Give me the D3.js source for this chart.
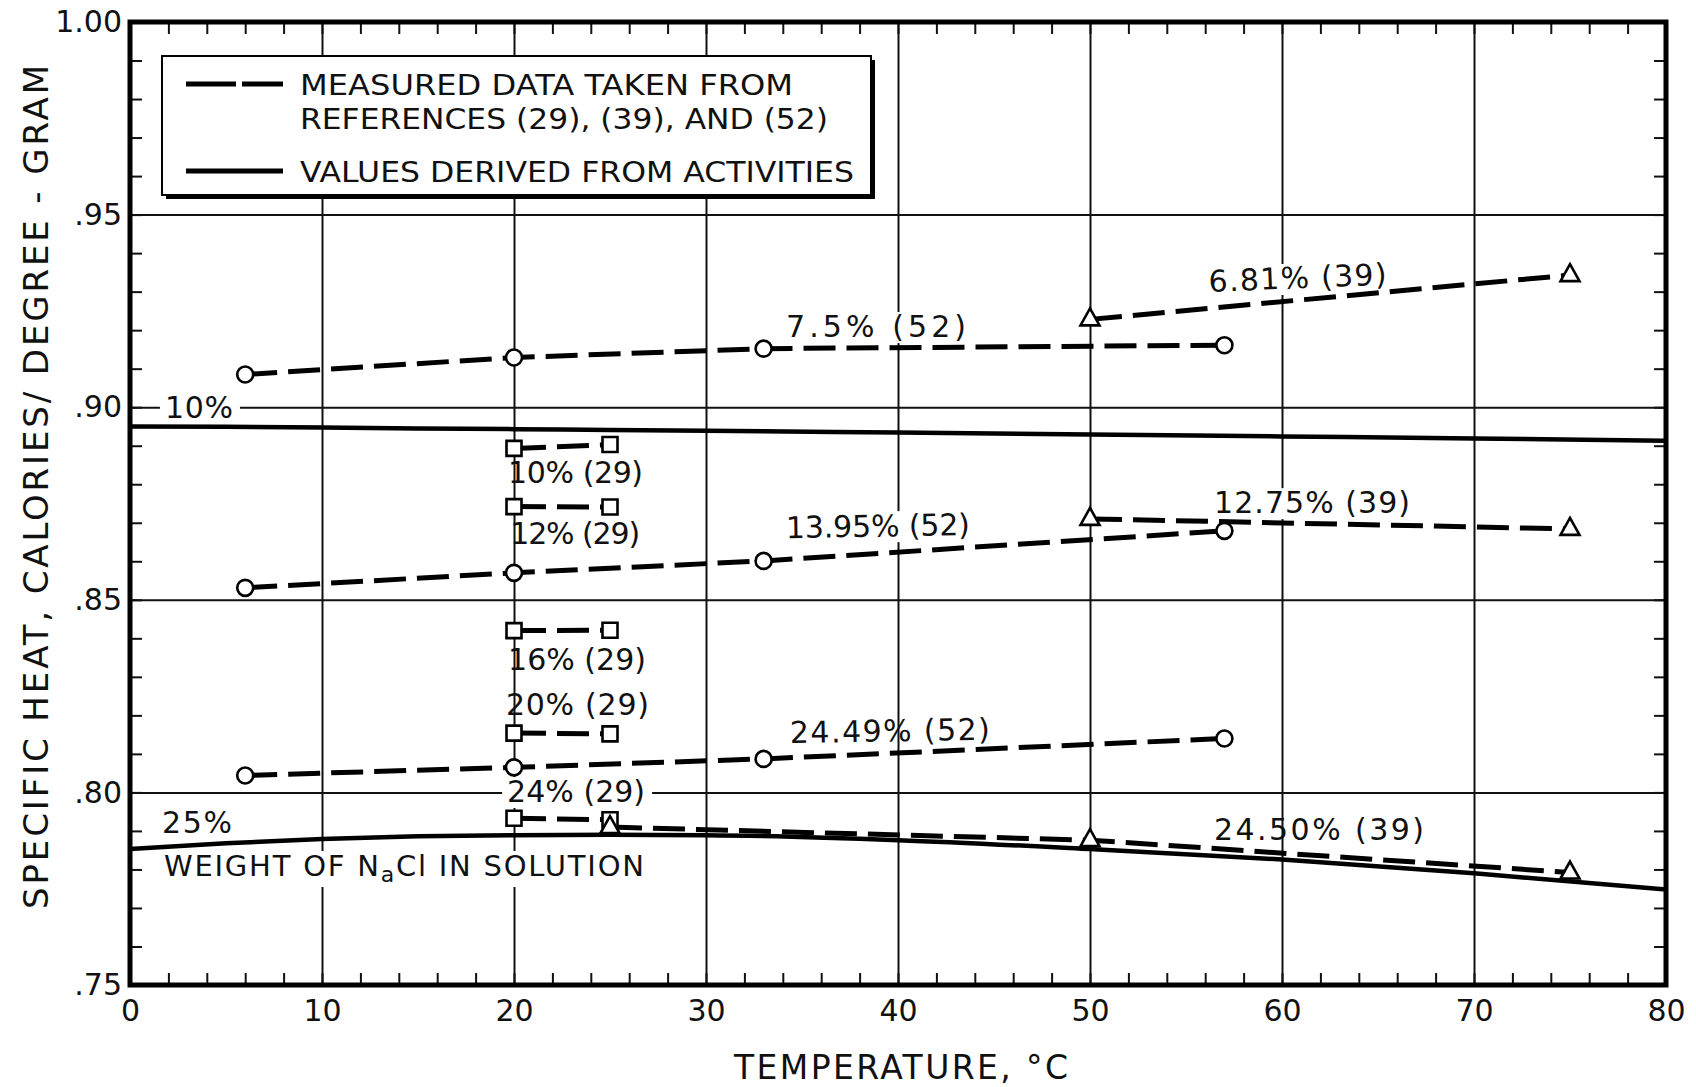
<!DOCTYPE html>
<html>
<head>
  <meta charset="utf-8">
  <title>Specific heat of NaCl solutions</title>
  <script src="https://d3js.org/d3.v7.min.js"></script>
  <style>
    body { margin: 0; background: #fff; }
    text { font-family: "DejaVu Sans", "Liberation Sans", sans-serif; fill: #111; }
  </style>
</head>
<body>
<div id="chart"></div>
<script>

// ---- data ----
// measured, ref (52): circles
var temps52 = [6, 20, 33, 57];
var cp52_7_5 = [0.9085, 0.9129, 0.9152, 0.9161];
var cp52_13_95 = [0.8531, 0.8570, 0.8601, 0.8679];
var cp52_24_49 = [0.8044, 0.8065, 0.8087, 0.8140];

// measured, ref (39): triangles
var temps39 = [50, 75];
var cp39_6_81 = [0.9228, 0.9343];
var cp39_12_75 = [0.8710, 0.8684];
var temps39b = [25, 50, 75];
var cp39_24_50 = [0.7910, 0.7876, 0.7792];

// measured, ref (29): squares
var temps29 = [20, 25];
var cp29_10 = [0.8893, 0.8903];
var cp29_12 = [0.8742, 0.8741];
var cp29_16 = [0.8420, 0.8421];
var cp29_20 = [0.8154, 0.8152];
var cp29_24 = [0.7933, 0.7929];

// values derived from activities: solid
var tempsCalc = [0, 5, 10, 15, 20, 25, 30, 40, 50, 60, 70, 80];
var calc10 = [0.8950, 0.8949, 0.8947, 0.8945, 0.8943, 0.8941, 0.8939, 0.8934, 0.8929, 0.8924, 0.8919, 0.8913];
var calc25 = [0.7853, 0.7868, 0.7879, 0.7886, 0.7889, 0.7890, 0.7889, 0.7876, 0.7853, 0.7826, 0.7790, 0.7748];

// ticks
var xTicks = [0, 10, 20, 30, 40, 50, 60, 70, 80];
var yTicks = [1.00, 0.95, 0.90, 0.85, 0.80, 0.75];
var yTickLabels = ["1.00", ".95", ".90", ".85", ".80", ".75"];

// annotations (text, anchor in data units, width in px, white box behind?)
var labels = [
  {t: "7.5% (52)",   x: 34.17, y: 0.9182, w: 180, bg: true},
  {t: "6.81% (39)",  x: 56.2,  y: 0.9299, w: 178, rot: -2.4, bg: true},
  {t: "10% (29)",    x: 19.69, y: 0.8803, w: 135},
  {t: "12% (29)",    x: 19.8,  y: 0.8645, w: 130},
  {t: "13.95% (52)", x: 34.17, y: 0.8660, w: 184, rot: -1, bg: true},
  {t: "12.75% (39)", x: 56.46, y: 0.8725, w: 196, bg: true},
  {t: "16% (29)",    x: 19.69, y: 0.8318, w: 138},
  {t: "20% (29)",    x: 19.58, y: 0.8201, w: 143},
  {t: "24.49% (52)", x: 34.38, y: 0.8128, w: 200, rot: -1},
  {t: "25%",         x: 1.67,  y: 0.7895, w: 70},
  {t: "24.50% (39)", x: 56.46, y: 0.7876, w: 210},
  {t: "10%",         x: 1.82,  y: 0.8972, w: 68, bg: true},
  {t: "24% (29)",    x: 19.64, y: 0.7975, w: 138, bg: true}
];

// ---- layout ----
var W = 1696, H = 1087;
var margin = {top: 22, right: 30, bottom: 102, left: 130},
    width = W - margin.left - margin.right,
    height = H - margin.top - margin.bottom;

var root = d3.select("#chart").append("svg")
    .attr("width", W)
    .attr("height", H);

var svg = root.append("g")
    .attr("transform", "translate(" + margin.left + "," + margin.top + ")");

var x = d3.scaleLinear().domain([0, 80]).range([0, width]);
var y = d3.scaleLinear().domain([0.75, 1.00]).range([height, 0]);

// grid lines
svg.append("g")
  .attr("transform", "translate(0," + height + ")")
  .call(d3.axisBottom(x).tickValues(xTicks.slice(1, -1)).tickSize(-height).tickFormat(""))
  .call(function(g) { g.select(".domain").remove(); })
  .selectAll("line").attr("stroke", "#111").attr("stroke-width", 1.6);

svg.append("g")
  .call(d3.axisLeft(y).tickValues(yTicks.slice(1, -1)).tickSize(-width).tickFormat(""))
  .call(function(g) { g.select(".domain").remove(); })
  .selectAll("line").attr("stroke", "#111").attr("stroke-width", 1.6);

// minor ticks (inward) on all four sides
var xMinor = d3.range(0, 81, 2);
var yMinor = d3.range(75, 101, 1).map(function(d) { return d / 100; });

var bottomAxis = svg.append("g")
  .attr("transform", "translate(0," + height + ")")
  .call(d3.axisBottom(x).tickValues(xMinor).tickSize(-12).tickPadding(15)
    .tickFormat(function(d) { return xTicks.indexOf(d) >= 0 ? d : ""; }));
svg.append("g")
  .call(d3.axisTop(x).tickValues(xMinor).tickSize(-12).tickFormat(""));
var leftAxis = svg.append("g")
  .call(d3.axisLeft(y).tickValues(yMinor).tickSize(-12).tickPadding(8)
    .tickFormat(function(d) {
      var i = yTicks.findIndex(function(t) { return Math.abs(t - d) < 1e-6; });
      return i >= 0 ? yTickLabels[i] : "";
    }));
svg.append("g")
  .attr("transform", "translate(" + width + ",0)")
  .call(d3.axisRight(y).tickValues(yMinor).tickSize(-12).tickFormat(""));

svg.selectAll(".domain").remove();
svg.selectAll(".tick line").attr("stroke", "#111").attr("stroke-width", 2);
bottomAxis.selectAll("text").style("font-size", "30px").style("font-family", "DejaVu Sans").attr("fill", "#111");
leftAxis.selectAll("text").style("font-size", "30px").style("font-family", "DejaVu Sans").attr("fill", "#111");

// frame
svg.append("rect")
  .attr("width", width).attr("height", height)
  .attr("fill", "none").attr("stroke", "#000").attr("stroke-width", 5);

// legend box
var lg = svg.append("g").attr("transform", "translate(" + (162 - margin.left) + "," + (56 - margin.top) + ")");
lg.append("rect").attr("x", 4).attr("y", 4).attr("width", 709).attr("height", 139).attr("fill", "#000");
lg.append("rect").attr("width", 709).attr("height", 139).attr("fill", "#fff")
  .attr("stroke", "#000").attr("stroke-width", 2);
lg.append("line").attr("x1", 24).attr("x2", 121).attr("y1", 28).attr("y2", 28)
  .attr("stroke", "#000").attr("stroke-width", 5).attr("stroke-dasharray", "50,6");
lg.append("line").attr("x1", 24).attr("x2", 121).attr("y1", 115).attr("y2", 115)
  .attr("stroke", "#000").attr("stroke-width", 5);
lg.append("text").attr("x", 138).attr("y", 39).style("font-size", "29px")
  .attr("textLength", 493).attr("lengthAdjust", "spacingAndGlyphs").text("MEASURED  DATA TAKEN FROM");
lg.append("text").attr("x", 138).attr("y", 73).style("font-size", "29px")
  .attr("textLength", 528).attr("lengthAdjust", "spacingAndGlyphs").text("REFERENCES (29), (39), AND (52)");
lg.append("text").attr("x", 138).attr("y", 126).style("font-size", "29px")
  .attr("textLength", 554).attr("lengthAdjust", "spacingAndGlyphs").text("VALUES  DERIVED FROM ACTIVITIES");

// white boxes behind labels that interrupt grid lines
labels.filter(function(l) { return l.bg; }).forEach(function(l) {
  svg.append("rect")
    .attr("x", x(l.x) - 5).attr("y", y(l.y) - 25)
    .attr("width", l.w + 12).attr("height", 31).attr("fill", "#fff")
    .attr("transform", l.rot ? "rotate(" + l.rot + "," + x(l.x) + "," + y(l.y) + ")" : null);
});
// weight label box
svg.append("rect").attr("x", x(1.77) - 5).attr("y", y(0.7783) - 25)
  .attr("width", 492).attr("height", 36).attr("fill", "#fff");

// lines
function series(xs, ys) {
  return xs.map(function(d, i) { return {x: d, y: ys[i]}; });
}
var line = d3.line().x(function(d) { return x(d.x); }).y(function(d) { return y(d.y); });
var smooth = d3.line().curve(d3.curveMonotoneX)
  .x(function(d) { return x(d.x); }).y(function(d) { return y(d.y); });

var solid = [series(tempsCalc, calc10), series(tempsCalc, calc25)];
var dashed = [
  series(temps52, cp52_7_5), series(temps52, cp52_13_95), series(temps52, cp52_24_49),
  series(temps39, cp39_6_81), series(temps39, cp39_12_75), series(temps39b, cp39_24_50),
  series(temps29, cp29_10), series(temps29, cp29_12), series(temps29, cp29_16),
  series(temps29, cp29_20), series(temps29, cp29_24)
];

svg.selectAll(".solid").data(solid).enter().append("path")
  .attr("class", "solid")
  .attr("d", smooth)
  .attr("fill", "none").attr("stroke", "#000").attr("stroke-width", 4.5);

svg.selectAll(".dashed").data(dashed).enter().append("path")
  .attr("class", "dashed")
  .attr("d", line)
  .attr("fill", "none").attr("stroke", "#000").attr("stroke-width", 5)
  .attr("stroke-dasharray", "32,11");

// markers
function marks(data, shape) {
  svg.selectAll(null).data(data).enter().append("path")
    .attr("transform", function(d) { return "translate(" + x(d.x) + "," + y(d.y) + ")"; })
    .attr("d", shape)
    .attr("fill", "#fff").attr("stroke", "#000").attr("stroke-width", 2.6);
}
var circle = "M8,0A8,8 0 1,1 -8,0A8,8 0 1,1 8,0Z";
var square = "M-7.5,-7.5H7.5V7.5H-7.5Z";
var tri = "M0,-11L9.5,6L-9.5,6Z";

marks([].concat(series(temps52, cp52_7_5), series(temps52, cp52_13_95), series(temps52, cp52_24_49)), circle);
marks([].concat(series(temps29, cp29_10), series(temps29, cp29_12), series(temps29, cp29_16),
  series(temps29, cp29_20), series(temps29, cp29_24)), square);
marks([].concat(series(temps39, cp39_6_81), series(temps39, cp39_12_75), series(temps39b, cp39_24_50)), tri);

// annotation labels
labels.forEach(function(l) {
  var t = svg.append("text").attr("x", x(l.x)).attr("y", y(l.y))
    .style("font-size", "30px").attr("textLength", l.w).text(l.t);
  if (l.rot) t.attr("transform", "rotate(" + l.rot + "," + x(l.x) + "," + y(l.y) + ")");
});

// weight label with subscript a
var wt = svg.append("text").attr("x", x(1.77)).attr("y", y(0.7783))
  .style("font-size", "29px").attr("textLength", 480);
wt.append("tspan").text("WEIGHT  OF N");
wt.append("tspan").attr("dy", 6).style("font-size", "22px").text("a");
wt.append("tspan").attr("dy", -6).text("Cl  IN  SOLUTION");

// axis titles
root.append("text")
  .attr("x", 901).attr("y", 1079)
  .attr("text-anchor", "middle")
  .style("font-size", "33px")
  .attr("textLength", 334)
  .text("TEMPERATURE, °C");

root.append("text")
  .attr("transform", "translate(48,487) rotate(-90)")
  .attr("text-anchor", "middle")
  .style("font-size", "34px")
  .attr("textLength", 844)
  .text("SPECIFIC HEAT,  CALORIES/ DEGREE - GRAM");

</script>
</body>
</html>
